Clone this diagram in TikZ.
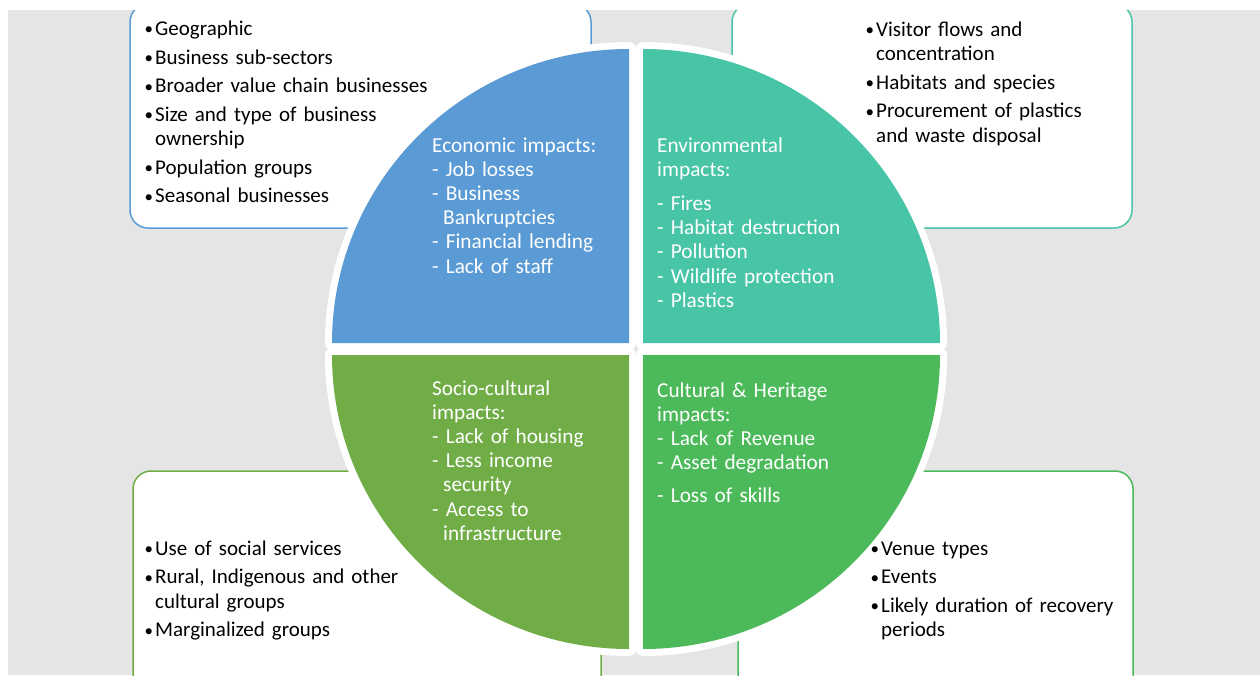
\documentclass[tikz,border=0pt]{standalone}
\usepackage{fontspec}
\setmainfont{Carlito}
\definecolor{bggray}{HTML}{E5E5E5}
\definecolor{qblue}{HTML}{5B9BD5}
\definecolor{qteal}{HTML}{48C4A6}
\definecolor{qolive}{HTML}{70AD47}
\definecolor{qlime}{HTML}{4CBA5A}
\newcommand\bul{\makebox[9pt][l]{\hspace*{-1.5pt}\raisebox{0.6pt}{\fontsize{17}{17}\selectfont\textbullet}}}
\newcommand\bind{\hspace*{9pt}}
\newcommand\dind{\hspace*{11pt}}
\tikzset{
  infobox/.style={fill=white, line width=1.5pt, rounded corners=18pt},
  quad/.style={preaction={draw=white, line width=14pt, line join=round}},
  boxtext/.style={anchor=base west, inner sep=0pt, text width=420pt, align=left,
    font=\fontsize{21}{24.4}\selectfont, text=black},
  quadtext/.style={anchor=base west, inner sep=0pt, text width=270pt, align=left,
    font=\fontsize{21.3}{24.2}\selectfont, text=white},
}
\begin{document}
\begin{tikzpicture}[x=1pt, y=-1pt]
\useasboundingbox (0,0) rectangle (1260,675);
\fill[white] (0,0) rectangle (1260,675);
\fill[bggray] (8,10) rectangle (1260,675);
% boxes
\begin{scope}
  \clip (8,10) rectangle (1260,675);
  \draw[infobox, draw=qblue]  (130,4) rectangle (591,228);
  \draw[infobox, draw=qteal]  (732,4) rectangle (1132,228);
  \draw[infobox, draw=qolive] (133,471) rectangle (601,700);
  \draw[infobox, draw=qlime]  (738,471) rectangle (1133,700);
\end{scope}
% quadrants
\fill[quad, qblue]  (629,343) -- ++(-297,0) arc[start angle=180, end angle=270, x radius=297, y radius=294] -- cycle;
\fill[quad, qteal]  (643,343) -- ++(0,-294) arc[start angle=270, end angle=360, x radius=297, y radius=294] -- cycle;
\fill[quad, qolive] (629,355) -- ++(0,294) arc[start angle=90, end angle=180, x radius=297, y radius=294] -- cycle;
\fill[quad, qlime]  (643,355) -- ++(297,0) arc[start angle=0, end angle=90, x radius=297, y radius=294] -- cycle;
% box texts
\node[boxtext] (tl) at (146,35.5) {\bul Geographic\\[4.2pt]
\bul Business sub-sectors\\[4.2pt]
\bul Broader value chain businesses\\[4.2pt]
\bul Size and type of business\\
\bind ownership\\[4.2pt]
\bul Population groups\\[4.2pt]
\bul Seasonal businesses};
\node[boxtext] (tr) at (867,36) {\bul Visitor flows and\\
\bind concentration\\[4.2pt]
\bul Habitats and species\\[4.2pt]
\bul Procurement of plastics\\
\bind and waste disposal};
\node[boxtext] (bl) at (146,555) {\bul Use of social services\\[4.2pt]
\bul Rural, Indigenous and other\\
\bind cultural groups\\[4.2pt]
\bul Marginalized groups};
\node[boxtext] (br) at (872,555) {\bul Venue types\\[4.2pt]
\bul Events\\[4.2pt]
\bul Likely duration of recovery\\
\bind periods};
% quadrant texts
\node[quadtext] (eco) at (432,152) {Economic impacts:\\
- Job losses\\
- Business\\
\dind Bankruptcies\\
- Financial lending\\
- Lack of staff};
\node[quadtext] (env) at (657,152) {Environmental\\
impacts:\\[10pt]
- Fires\\
- Habitat destruction\\
- Pollution\\
- Wildlife protection\\
- Plastics};
\node[quadtext] (soc) at (432,395) {Socio-cultural\\
impacts:\\
- Lack of housing\\
- Less income\\
\dind security\\
- Access to\\
\dind infrastructure};
\node[quadtext] (her) at (657,397) {Cultural \& Heritage\\
impacts:\\
- Lack of Revenue\\
- Asset degradation\\[9pt]
- Loss of skills};
\end{tikzpicture}
\end{document}
